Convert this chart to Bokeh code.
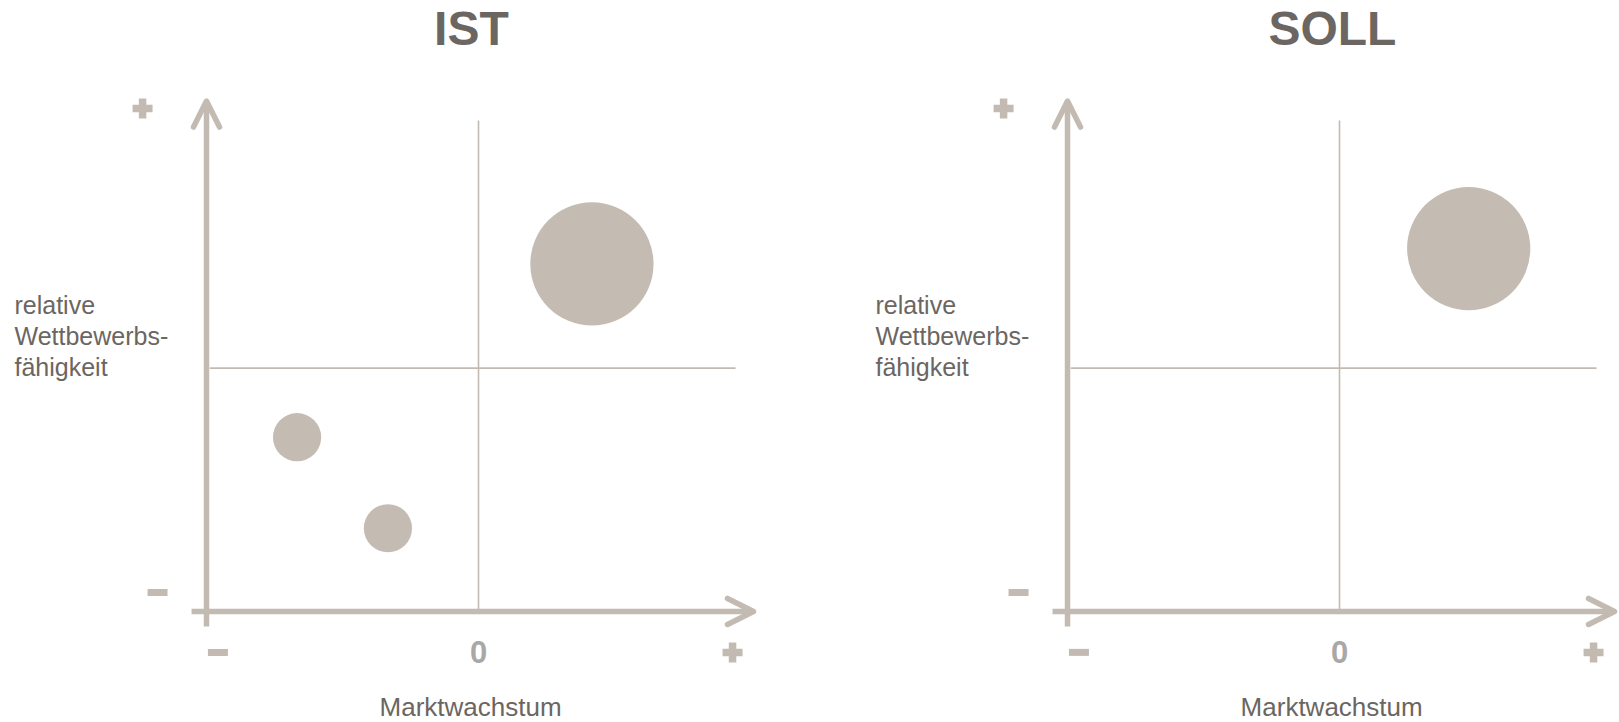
from bokeh.plotting import figure
from bokeh.layouts import row
from bokeh.models import Range1d, Arrow, OpenHead, ColumnDataSource
from bokeh.core.properties import value
from bokeh.embed import file_html
from bokeh.resources import INLINE

# --- data -------------------------------------------------------------
panel_titles = ["IST", "SOLL"]

# bubble positions: x = Marktwachstum, y = relative Wettbewerbsfähigkeit
ist_x = [0.417, -0.667, -0.333]
ist_y = [0.428, -0.284, -0.658]
ist_r = [0.2265, 0.0886, 0.0886]

soll_x = [0.475]
soll_y = [0.491]
soll_r = [0.2265]

x_tick_labels = ["−", "0", "+"]
y_tick_labels = ["−", "+"]

x_axis_title = "Marktwachstum"
y_axis_title = ["relative", "Wettbewerbs-", "fähigkeit"]

# --- style ------------------------------------------------------------
AXIS = "#c3bbb2"
BUBBLE = "#c4bcb3"
TEXT = "#6b6661"
ZERO = "#a9a8a6"
FONT = "Liberation Sans"

H = 722
Y_TOP, Y_BOT = 1.5103, -1.4561
X_LEFT = -1.7574


def panel(title, xs, ys, rs, width, x_right):
    p = figure(width=width, height=H, output_backend="svg", toolbar_location=None,
               x_range=Range1d(X_LEFT, x_right), y_range=Range1d(Y_BOT, Y_TOP),
               min_border=0, min_border_left=0, min_border_right=0,
               min_border_top=0, min_border_bottom=0)
    p.axis.visible = False
    p.grid.visible = False
    p.outline_line_color = None
    p.background_fill_color = "white"
    p.border_fill_color = "white"

    # quadrant dividers
    p.segment(x0=[0, -0.988], y0=[-1.0, 0], x1=[0, 0.945], y1=[1.017, 0],
              line_color=AXIS, line_width=1.6)

    # axes with open arrow heads
    for xs0, ys0, xs1, ys1 in [(-1.0, -1.062, -1.0, 1.097), (-1.055, -1.0, 1.011, -1.0)]:
        p.add_layout(Arrow(x_start=xs0, y_start=ys0, x_end=xs1, y_end=ys1,
                           line_color=AXIS, line_width=5.5, line_cap="butt",
                           end=OpenHead(size=26, line_color=AXIS, line_width=5.5,
                                        line_cap="round", line_join="round")))

    # bubbles
    src = ColumnDataSource(dict(x=xs, y=ys, r=rs))
    p.circle(x="x", y="y", radius="r", source=src, fill_color=BUBBLE, line_color=None)

    # +/- tick marks for both axes
    minus_x = [-0.958, -1.18]
    minus_y = [-1.168, -0.922]
    p.rect(x=minus_x, y=minus_y, width=20, height=7, width_units="screen",
           height_units="screen", fill_color=AXIS, line_color=None)
    plus_x = [0.934, -1.235]
    plus_y = [-1.168, 1.067]
    p.scatter(x=plus_x, y=plus_y, marker="plus", size=20, fill_color=AXIS, line_color=None)

    # zero label
    p.text(x=[0], y=[-1.168], text=[x_tick_labels[1]], text_align="center",
           text_baseline="middle", text_font=value(FONT), text_font_style="bold",
           text_font_size="31px", text_color=ZERO)

    # titles
    p.text(x=[-0.026], y=[1.395], text=[title], text_align="center",
           text_baseline="middle", text_font=value(FONT), text_font_style="bold",
           text_font_size="48px", text_color=TEXT)
    p.text(x=[-0.029], y=[-1.394], text=[x_axis_title], text_align="center",
           text_baseline="alphabetic", text_font=value(FONT), text_font_size="26px",
           text_color=TEXT)
    p.text(x=[-1.706] * 3, y=[0.260, 0.133, 0.005], text=y_axis_title,
           text_align="left", text_baseline="alphabetic", text_font=value(FONT),
           text_font_size="25px", text_color=TEXT)
    return p


left = panel(panel_titles[0], ist_x, ist_y, ist_r, 861, 1.4081)
right = panel(panel_titles[1], soll_x, soll_y, soll_r, 758, 1.0294)

layout = row(left, right, spacing=0)
open("out.html", "w").write(file_html(layout, INLINE))
